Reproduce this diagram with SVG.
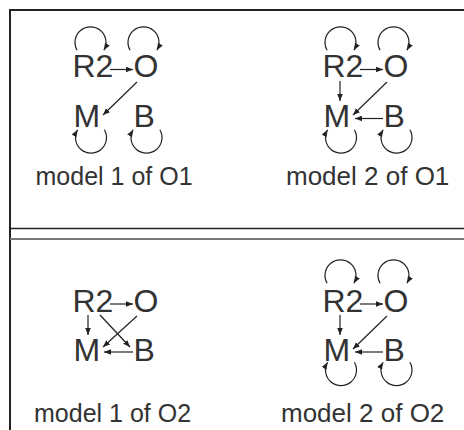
<svg xmlns="http://www.w3.org/2000/svg" width="464" height="430" viewBox="0 0 464 430">
<style>
.n{font-family:"Liberation Sans",Arial,sans-serif;font-size:32px;fill:#333}
.l{font-family:"Liberation Sans",Arial,sans-serif;font-size:25px;fill:#333}
.r{font-size:26px}
.e{fill:none;stroke:#222;stroke-width:1.2;marker-end:url(#ah)}
</style>
<defs>
<marker id="ah" markerUnits="userSpaceOnUse" markerWidth="8" markerHeight="6" refX="7" refY="3" orient="auto">
<path d="M0,0.2 L7,3 L0,5.8 Z" fill="#222"/>
</marker>
</defs>
<rect width="464" height="430" fill="#fff"/>
<g id="frame" fill="none">
<path d="M10,430 V10 H464" stroke="#222" stroke-width="2"/>
<path d="M10,228.5 H464" stroke="#222" stroke-width="1.5"/>
<path d="M10,239 H464" stroke="#777" stroke-width="1.8"/>
</g>

<!-- model 1 of O1 -->
<g id="m1o1-R2"><text class="n" x="72.5" y="77">R2</text></g>
<g id="m1o1-O"><text class="n" x="133.5" y="77">O</text></g>
<g id="m1o1-M"><text class="n" x="73.6" y="127">M</text></g>
<g id="m1o1-B"><text class="n" x="133.6" y="127">B</text></g>
<g id="m1o1-label"><text class="l" x="35.5" y="185">model 1 of O1</text></g>

<!-- model 2 of O1 -->
<g id="m2o1-R2"><text class="n" x="322.5" y="77">R2</text></g>
<g id="m2o1-O"><text class="n" x="383.5" y="77">O</text></g>
<g id="m2o1-M"><text class="n" x="323.6" y="127">M</text></g>
<g id="m2o1-B"><text class="n" x="383.6" y="127">B</text></g>
<g id="m2o1-label"><text class="l r" x="286" y="185">model 2 of O1</text></g>

<!-- model 1 of O2 -->
<g id="m1o2-R2"><text class="n" x="72.5" y="312">R2</text></g>
<g id="m1o2-O"><text class="n" x="133.5" y="312">O</text></g>
<g id="m1o2-M"><text class="n" x="73.6" y="361">M</text></g>
<g id="m1o2-B"><text class="n" x="133.6" y="361">B</text></g>
<g id="m1o2-label"><text class="l" x="34" y="422">model 1 of O2</text></g>

<!-- model 2 of O2 -->
<g id="m2o2-R2"><text class="n" x="322.5" y="312">R2</text></g>
<g id="m2o2-O"><text class="n" x="383.5" y="312">O</text></g>
<g id="m2o2-M"><text class="n" x="323.6" y="361">M</text></g>
<g id="m2o2-B"><text class="n" x="383.6" y="361">B</text></g>
<g id="m2o2-label"><text class="l r" x="281" y="422">model 2 of O2</text></g>

<g id="connectors">
<!-- model 1 of O1 -->
<path class="e" d="M77.1,50.2 A15.5,15.5 0 1 1 103.9,50.2"/>
<path class="e" d="M130.1,50.2 A15.5,15.5 0 1 1 156.9,50.2"/>
<path class="e" d="M110,69.5 H133"/>
<path class="e" d="M137,82 L103,115"/>
<path class="e" d="M104.4,129.8 A15.5,15.5 0 1 1 77.6,129.8"/>
<path class="e" d="M159.9,129.8 A15.5,15.5 0 1 1 133.1,129.8"/>

<!-- model 2 of O1 -->
<path class="e" d="M327.1,50.2 A15.5,15.5 0 1 1 353.9,50.2"/>
<path class="e" d="M380.1,50.2 A15.5,15.5 0 1 1 406.9,50.2"/>
<path class="e" d="M360,69.5 H383"/>
<path class="e" d="M340,81 V101"/>
<path class="e" d="M387,82 L353,115"/>
<path class="e" d="M383,118.5 H355"/>
<path class="e" d="M354.4,129.8 A15.5,15.5 0 1 1 327.6,129.8"/>
<path class="e" d="M409.9,129.8 A15.5,15.5 0 1 1 383.1,129.8"/>

<!-- model 1 of O2 -->
<path class="e" d="M110,304 H133"/>
<path class="e" d="M88,315 V335"/>
<path class="e" d="M100,315 L130,347"/>
<path class="e" d="M137,316 L103,347"/>
<path class="e" d="M133,352 H104"/>

<!-- model 2 of O2 -->
<path class="e" d="M327.1,283.2 A15.5,15.5 0 1 1 353.9,283.2"/>
<path class="e" d="M380.1,283.2 A15.5,15.5 0 1 1 406.9,283.2"/>
<path class="e" d="M360,304 H383"/>
<path class="e" d="M340,315 V335"/>
<path class="e" d="M387,316 L353,349"/>
<path class="e" d="M383,352 H355"/>
<path class="e" d="M354.4,362.3 A15.5,15.5 0 1 1 327.6,362.3"/>
<path class="e" d="M409.9,362.3 A15.5,15.5 0 1 1 383.1,362.3"/>
</g>
</svg>
